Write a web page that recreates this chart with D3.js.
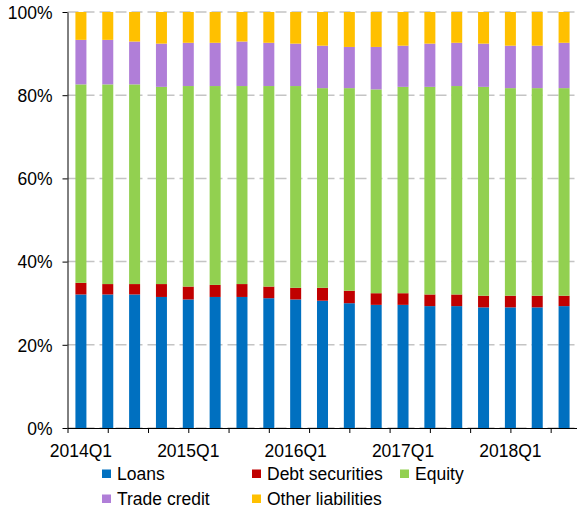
<!DOCTYPE html>
<html>
<head>
<meta charset="utf-8">
<script src="https://cdn.jsdelivr.net/npm/d3@7"></script>
<style>
  body { margin: 0; background: #fff; }
  text { font-family: "Liberation Sans", Arial, sans-serif; fill: #000; }
</style>
</head>
<body>
<div id="chart"></div>
<script>
(function() {
'use strict';

// quarters shown on the x axis
const quarters = ['2014Q1','2014Q2','2014Q3','2014Q4','2015Q1','2015Q2','2015Q3','2015Q4',
  '2016Q1','2016Q2','2016Q3','2016Q4','2017Q1','2017Q2','2017Q3','2017Q4','2018Q1','2018Q2','2018Q3'];

// shares of total liabilities, percent
const loans = [32.1,32.1,32.1,31.5,30.9,31.5,31.5,31.2,30.9,30.6,30.0,29.6,29.6,29.3,29.3,29.0,29.0,29.0,29.3];
const debtSecurities = [2.8,2.5,2.5,3.1,3.1,2.9,3.1,2.8,2.8,3.1,3.0,2.8,2.8,2.8,2.8,2.8,2.8,2.8,2.5];
const equity = [47.7,48.0,48.0,47.4,48.2,47.8,47.6,48.2,48.5,48.0,48.7,49.0,49.6,49.9,50.1,50.2,49.9,49.9,49.9];
const tradeCredit = [10.7,10.7,10.3,10.4,10.4,10.4,10.7,10.4,10.2,10.2,9.9,10.2,9.9,10.4,10.4,10.4,10.2,10.2,10.9];
const otherLiabilities = [6.7,6.7,7.1,7.6,7.4,7.4,7.1,7.4,7.6,8.1,8.4,8.4,8.1,7.6,7.4,7.6,8.1,8.1,7.4];

const seriesNames = ['Loans','Debt securities','Equity','Trade credit','Other liabilities'];
const seriesColors = ['#0070C0','#C00000','#92D050','#B07ED8','#FFC000'];
const yTicks = [0, 20, 40, 60, 80, 100];
const labelQuarters = ['2014Q1','2015Q1','2016Q1','2017Q1','2018Q1'];

const width = 577;
const height = 508;
const left = 67.5;
const right = 577.5;
const top = 12;
const bottom = 428;
const fontSize = 17.5;

const rows = quarters.map(function(q, i) {
  return {
    quarter: q,
    'Loans': loans[i],
    'Debt securities': debtSecurities[i],
    'Equity': equity[i],
    'Trade credit': tradeCredit[i],
    'Other liabilities': otherLiabilities[i]
  };
});

const svg = d3.select('#chart')
  .append('svg')
  .attr('width', width)
  .attr('height', height);

const x = d3.scaleBand()
  .domain(quarters)
  .range([left, right])
  .paddingInner(0.59)
  .paddingOuter(0.295);

const y = d3.scaleLinear()
  .domain([0, 100])
  .range([bottom, top]);

const color = d3.scaleOrdinal()
  .domain(seriesNames)
  .range(seriesColors);

// dashed gridlines
svg.append('g')
  .selectAll('line')
  .data(yTicks)
  .enter()
  .append('line')
  .attr('x1', left)
  .attr('x2', right)
  .attr('y1', function(d) { return y(d); })
  .attr('y2', function(d) { return y(d); })
  .attr('stroke', '#c4c4c4')
  .attr('stroke-width', 1.5)
  .attr('stroke-dasharray', '11,5');

// stacked bars
const stack = d3.stack().keys(seriesNames);

svg.append('g')
  .selectAll('g')
  .data(stack(rows))
  .enter()
  .append('g')
  .attr('fill', function(d) { return color(d.key); })
  .selectAll('rect')
  .data(function(d) { return d; })
  .enter()
  .append('rect')
  .attr('x', function(d) { return x(d.data.quarter); })
  .attr('width', x.bandwidth())
  .attr('y', function(d) { return y(d[1]); })
  .attr('height', function(d) { return y(d[0]) - y(d[1]); });

// y axis
const yAxis = svg.append('g')
  .attr('transform', 'translate(' + left + ',0)')
  .call(d3.axisLeft(y)
    .tickValues(yTicks)
    .tickFormat(function(d) { return d + '%'; })
    .tickSize(5)
    .tickSizeOuter(0)
    .tickPadding(10));
yAxis.selectAll('text')
  .attr('font-size', fontSize)
  .attr('font-family', '"Liberation Sans", Arial, sans-serif')
  .attr('dy', '0.36em');
yAxis.selectAll('line, path').attr('stroke', '#000');

// x axis: tick marks every one and a half categories
const xPos = d3.scaleLinear()
  .domain([0, quarters.length])
  .range([left, right]);

const xAxis = svg.append('g')
  .attr('transform', 'translate(0,' + bottom + ')')
  .call(d3.axisBottom(xPos)
    .tickValues(d3.range(0, quarters.length, 1.5))
    .tickFormat('')
    .tickSize(5)
    .tickSizeOuter(0));
xAxis.selectAll('line, path').attr('stroke', '#000');

svg.append('g')
  .selectAll('text')
  .data(labelQuarters)
  .enter()
  .append('text')
  .attr('x', function(d) { return x(d) + x.bandwidth() / 2; })
  .attr('y', 457)
  .attr('text-anchor', 'middle')
  .attr('font-size', fontSize)
  .text(function(d) { return d; });

// legend
const legendPos = [[102, 480], [252, 480], [400, 480], [102, 505], [252, 505]];

const legend = svg.append('g')
  .selectAll('g')
  .data(seriesNames)
  .enter()
  .append('g')
  .attr('transform', function(d, i) { return 'translate(' + legendPos[i][0] + ',' + legendPos[i][1] + ')'; });

legend.append('rect')
  .attr('y', -10.5)
  .attr('width', 9)
  .attr('height', 8.5)
  .attr('fill', function(d) { return color(d); });

legend.append('text')
  .attr('x', 15)
  .attr('font-size', fontSize)
  .text(function(d) { return d; });

})();
</script>
</body>
</html>
